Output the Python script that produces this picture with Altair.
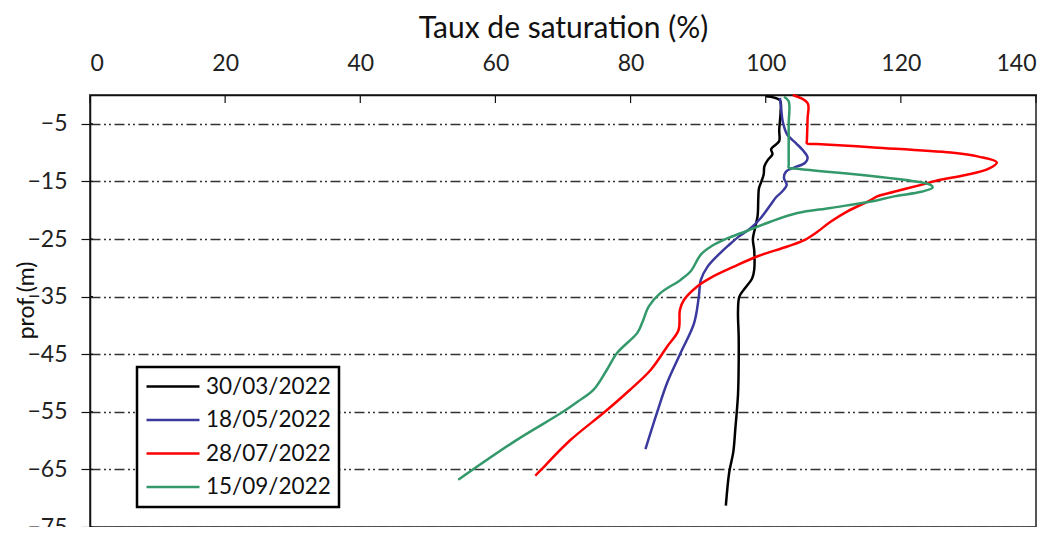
import altair as alt
import pandas as pd

# ---- data ----
dates = ["30/03/2022", "18/05/2022", "28/07/2022", "15/09/2022"]
colors = ["#000000", "#3a3a9e", "#ff0000", "#33996a"]

sat_0330 = [100.0, 102.1, 102.2, 102.0, 102.0, 101.5, 100.8, 101.0, 100.3, 99.8, 99.7, 99.3, 99.0, 98.9,
            98.8, 98.4, 98.1, 98.3, 98.3, 98.0, 96.9, 96.1, 95.9, 96.0, 96.0, 95.9, 95.5, 95.2, 94.6, 94.1]
prof_0330 = [-0.2, -0.9, -3.0, -6.0, -8.0, -8.6, -9.4, -10.3, -11.3, -12.4, -13.8, -15.2, -16.2, -18.0,
             -21.0, -23.2, -25.0, -27.0, -30.3, -31.8, -33.6, -35.0, -37.5, -42.0, -46.5, -52.0, -58.0, -62.0, -65.5, -71.3]

sat_0518 = [102.1, 102.3, 102.5, 103.2, 104.5, 105.5, 106.2, 105.8, 104.2, 103.0, 102.7, 103.1, 102.4, 101.5,
            100.7, 99.3, 97.8, 96.1, 94.6, 93.3, 91.4, 90.4, 90.1, 89.4, 87.4, 85.4, 83.9, 82.2]
prof_0518 = [-0.5, -2.5, -4.5, -6.9, -8.4, -9.6, -10.9, -11.8, -12.6, -13.3, -14.4, -15.6, -16.8, -17.8,
             -19.1, -21.3, -23.1, -24.5, -26.0, -27.4, -29.8, -32.1, -35.0, -39.6, -44.8, -50.0, -55.2, -61.5]

sat_0728 = [104.0, 106.2, 106.2, 106.1, 106.1, 107.5, 116.0, 127.4, 131.5, 134.2, 133.0, 129.6, 125.5, 123.0,
            119.0, 116.5, 115.6, 112.1, 109.6, 107.7, 105.7, 103.2, 98.8, 95.3, 91.9, 89.9, 87.9, 87.3, 87.1,
            85.4, 83.0, 79.8, 76.2, 71.1, 66.8, 65.9]
prof_0728 = [0.0, -1.4, -4.0, -7.8, -8.4, -8.5, -9.1, -10.0, -10.7, -11.7, -12.8, -13.9, -14.8, -15.6,
             -16.8, -17.6, -18.2, -20.2, -22.0, -23.7, -25.2, -26.3, -28.0, -29.8, -31.7, -33.2, -35.6, -37.3,
             -40.8, -43.7, -47.7, -51.3, -55.0, -59.9, -65.0, -66.1]

sat_0915 = [102.7, 103.4, 103.4, 103.4, 103.4, 103.4, 105.0, 124.4, 124.7, 123.0, 119.0, 115.6, 109.6, 104.7,
            100.7, 96.3, 94.3, 91.9, 90.4, 88.9, 87.4, 84.4, 82.7, 81.7, 81.0, 78.0, 76.5, 74.5, 72.2, 70.0,
            63.0, 54.5]
prof_0915 = [-0.3, -1.1, -5.0, -9.0, -12.2, -12.6, -12.85, -15.6, -16.1, -16.8, -17.6, -18.5, -19.6, -20.5,
             -22.0, -24.0, -24.9, -26.3, -27.7, -30.6, -32.1, -34.4, -36.7, -39.6, -41.3, -44.8, -47.7, -51.2,
             -53.2, -55.0, -60.0, -66.8]

x_ticks = [0, 20, 40, 60, 80, 100, 120, 140]
y_ticks = [-5, -15, -25, -35, -45, -55, -65, -75]

series = [(dates[0], sat_0330, prof_0330), (dates[1], sat_0518, prof_0518),
          (dates[2], sat_0728, prof_0728), (dates[3], sat_0915, prof_0915)]
rows = []
for name, sats, profs in series:
    for i, (s, p) in enumerate(zip(sats, profs)):
        rows.append({"date": name, "sat": s, "prof": p, "idx": i})
df = pd.DataFrame(rows)

FONT = "Lato"

xscale = alt.Scale(domain=[0, 140], nice=False, zero=False)
yscale = alt.Scale(domain=[-75, 0], nice=False, zero=False)

lines = alt.Chart(df).mark_line(strokeWidth=2.5, interpolate="catmull-rom").encode(
    x=alt.X("sat:Q", scale=xscale,
            axis=alt.Axis(orient="top", values=x_ticks, ticks=False, grid=False,
                          title="Taux de saturation (%)", titleFontSize=30, titleFontWeight="normal",
                          titleColor="#111", titleBaseline="alphabetic", titleY=-58,
                          labelFontSize=23, labelColor="#222", labelPadding=20,
                          domainColor="#111", domainWidth=1.5)),
    y=alt.Y("prof:Q", scale=yscale,
            axis=alt.Axis(orient="left", values=y_ticks, tickSize=9, tickColor="#111", tickWidth=1.2,
                          grid=True, gridColor="#333", gridWidth=1.3, gridDash=[10, 3.5, 2, 3, 2, 3.5],
                          title="prof (m)", titleFontSize=23, titleFontWeight="normal", titleColor="#111",
                          titleAngle=-90, titleX=-57, titleY=205, titleBaseline="alphabetic",
                          titleAlign="center",
                          labelFontSize=23, labelColor="#222", labelPadding=14,
                          domainColor="#111", domainWidth=1.5)),
    color=alt.Color("date:N", scale=alt.Scale(domain=dates, range=colors),
                    sort=dates,
                    legend=alt.Legend(title=None, orient="none", legendX=47, legendY=272,
                                      symbolType="stroke", symbolSize=2809, symbolStrokeWidth=2.5,
                                      labelFontSize=22.5, labelColor="#111", labelOffset=5,
                                      clipHeight=23, rowPadding=10.5, padding=8,
                                      strokeColor="#000", fillColor="white")),
    order="idx:Q",
)

xt = alt.Chart(pd.DataFrame({"sat": x_ticks})).mark_rule(color="#111", strokeWidth=1.2).encode(
    x=alt.X("sat:Q", scale=xscale), y=alt.value(0), y2=alt.value(8))
yt = alt.Chart(pd.DataFrame({"prof": y_ticks})).mark_rule(color="#111", strokeWidth=1.2).encode(
    y=alt.Y("prof:Q", scale=yscale), x=alt.value(0), x2=alt.value(3))

chart = alt.layer(lines, xt, yt).properties(
    width=946, height=432,
    title=alt.TitleParams("Année 2022", fontSize=24, font=FONT, color="#444", fontWeight="normal"),
    autosize=alt.AutoSizeParams(type="none"),
    padding={"left": 82, "top": 87, "right": 10, "bottom": 0},
).configure(font=FONT).configure_view(stroke="#555", strokeWidth=2).configure_legend(strokeWidth=2.5)

chart.save("out.html", embed_options={"renderer": "svg", "actions": False})
